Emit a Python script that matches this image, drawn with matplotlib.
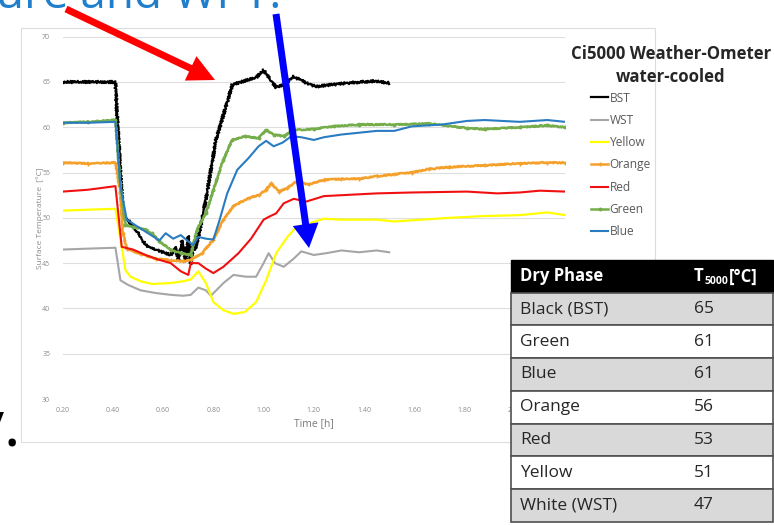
import numpy as np
import matplotlib.pyplot as plt
from matplotlib.patches import FancyArrow, Rectangle

plt.rcParams['font.family'] = ['Open Sans', 'DejaVu Sans']

W, H = 774, 525

# Surface temperature [°C] vs time [h]
bst_t = [0.20, 0.30, 0.41, 0.415, 0.44, 0.50, 0.53, 0.57, 0.63, 0.65, 0.66, 0.675, 0.69, 0.70, 0.71, 0.72,
         0.73, 0.77, 0.81, 0.85, 0.875, 0.91, 0.97, 1.00, 1.025, 1.05, 1.08, 1.12, 1.17, 1.21, 1.27, 1.34,
         1.44, 1.50]
bst_T = [65.0, 65.0, 65.0, 62.0, 50.5, 48.3, 47.0, 46.5, 45.9, 46.8, 45.3, 47.5, 45.2, 48.0, 44.9, 47.2,
         46.5, 52.0, 58.6, 62.3, 64.7, 65.0, 65.5, 66.3, 65.3, 64.4, 64.7, 65.6, 64.9, 64.5, 64.7, 64.9,
         65.1, 64.9]

wst_t = [0.20, 0.30, 0.41, 0.43, 0.46, 0.51, 0.57, 0.63, 0.68, 0.71, 0.74, 0.77, 0.79, 0.84, 0.88,
         0.93, 0.97, 1.00, 1.02, 1.045, 1.08, 1.12, 1.15, 1.20, 1.25, 1.31, 1.38, 1.45, 1.50]
wst_T = [46.5, 46.6, 46.7, 43.1, 42.6, 42.0, 41.7, 41.5, 41.4, 41.5, 42.3, 42.0, 41.4, 42.8, 43.7,
         43.5, 43.5, 45.0, 46.1, 45.0, 44.6, 45.5, 46.3, 45.9, 46.1, 46.4, 46.2, 46.4, 46.2]

yel_t = [0.20, 0.30, 0.41, 0.43, 0.45, 0.47, 0.51, 0.555, 0.63, 0.68, 0.71, 0.74, 0.77, 0.80, 0.84,
         0.88, 0.925, 0.97, 1.01, 1.05, 1.095, 1.13, 1.17, 1.24, 1.31, 1.45, 1.52, 1.74, 1.88, 2.02,
         2.13, 2.20]
yel_T = [50.8, 50.9, 51.0, 47.6, 44.2, 43.5, 43.0, 42.7, 42.8, 43.0, 43.2, 44.1, 42.8, 40.7, 39.8,
         39.4, 39.6, 40.7, 43.1, 46.1, 47.9, 49.0, 49.3, 49.9, 49.8, 49.8, 49.6, 50.0, 50.2, 50.3,
         50.6, 50.3]

org_t = [0.20, 0.30, 0.41, 0.43, 0.44, 0.455, 0.51, 0.57, 0.63, 0.68, 0.71, 0.755, 0.80, 0.84,
         0.88, 0.94, 0.98, 1.01, 1.03, 1.06, 1.095, 1.13, 1.18, 1.24, 1.31, 1.38, 1.45, 1.52, 1.59,
         1.66, 1.74, 1.88, 2.02, 2.13, 2.20]
org_T = [56.1, 56.0, 56.1, 52.7, 48.3, 46.6, 46.0, 45.5, 45.3, 45.2, 45.4, 46.1, 47.6, 49.8,
         51.3, 52.2, 52.5, 53.1, 53.8, 52.9, 53.3, 54.0, 53.7, 54.2, 54.3, 54.3, 54.6, 54.8, 55.0,
         55.4, 55.6, 55.8, 56.0, 56.1, 56.1]

red_t = [0.20, 0.30, 0.41, 0.435, 0.48, 0.53, 0.58, 0.63, 0.67, 0.70, 0.71, 0.74, 0.77, 0.80,
         0.84, 0.90, 0.95, 1.00, 1.02, 1.05, 1.08, 1.12, 1.17, 1.24, 1.31, 1.45, 1.59, 1.81, 1.93,
         2.02, 2.10, 2.20]
red_T = [52.9, 53.1, 53.5, 46.8, 46.5, 45.9, 45.4, 45.0, 44.1, 43.7, 45.0, 45.0, 44.4, 43.9,
         44.6, 46.1, 47.7, 49.8, 50.1, 50.5, 51.6, 52.1, 51.8, 52.4, 52.5, 52.7, 52.8, 52.9, 52.7,
         52.8, 53.0, 52.9]

grn_t = [0.20, 0.30, 0.41, 0.43, 0.45, 0.48, 0.53, 0.555, 0.585, 0.63, 0.67, 0.71, 0.735, 0.77,
         0.80, 0.84, 0.875, 0.925, 0.98, 1.01, 1.04, 1.08, 1.12, 1.20, 1.28, 1.38, 1.52, 1.66, 1.81,
         1.88, 2.02, 2.13, 2.20]
grn_T = [60.5, 60.6, 60.8, 53.5, 49.2, 49.0, 48.7, 48.3, 47.4, 46.5, 46.1, 45.9, 48.7, 50.5,
         53.1, 56.4, 58.6, 59.0, 58.8, 59.7, 59.2, 59.0, 59.7, 59.8, 60.1, 60.3, 60.3, 60.4, 59.9,
         59.8, 60.0, 60.2, 60.0]

blu_t = [0.20, 0.30, 0.41, 0.43, 0.455, 0.50, 0.54, 0.585, 0.61, 0.64, 0.67, 0.70, 0.72, 0.74,
         0.77, 0.80, 0.825, 0.855, 0.895, 0.94, 0.98, 1.01, 1.04, 1.075, 1.11, 1.15, 1.20, 1.24,
         1.31, 1.38, 1.45, 1.52, 1.59, 1.71, 1.81, 1.88, 2.02, 2.13, 2.20]
blu_T = [60.5, 60.5, 60.6, 53.5, 49.8, 49.0, 48.3, 47.5, 48.3, 47.7, 48.1, 47.4, 47.0, 47.9,
         47.7, 47.6, 49.8, 52.7, 55.3, 56.6, 57.9, 58.5, 57.9, 58.3, 59.0, 58.9, 58.6, 58.9,
         59.2, 59.4, 59.6, 59.6, 60.1, 60.3, 60.7, 60.8, 60.6, 60.8, 60.6]

x_ticks = [0.2, 0.4, 0.6, 0.8, 1.0, 1.2, 1.4, 1.6, 1.8, 2.0]
y_ticks = [30, 35, 40, 45, 50, 55, 60, 65, 70]

tab_names = ['Black (BST)', 'Green', 'Blue', 'Orange', 'Red', 'Yellow', 'White (WST)']
tab_vals = [65, 61, 61, 56, 53, 51, 47]

fig = plt.figure(figsize=(W / 100, H / 100), dpi=100)

# chart
x0, x1, y0, y1 = 62.7, 565, 36.7, 399
ax = fig.add_axes([x0 / W, 1 - y1 / H, (x1 - x0) / W, (y1 - y0) / H])
l_bst, = ax.plot(bst_t, bst_T, color='black', lw=1.6, label='BST')
ax.plot(wst_t, wst_T, color='#a6a6a6', lw=1.5, label='WST')
ax.plot(yel_t, yel_T, color='#ffff00', lw=1.6, label='Yellow')
l_org, = ax.plot(org_t, org_T, color='#f5a02a', lw=1.8, marker='+', ms=2.5, label='Orange')
ax.plot(red_t, red_T, color='#f01010', lw=1.5, label='Red')
l_grn, = ax.plot(grn_t, grn_T, color='#74ad4a', lw=1.8, marker='o', ms=1.8, label='Green')
ax.plot(blu_t, blu_T, color='#2a7cc2', lw=1.5, label='Blue')
l_bst.set_sketch_params(1.2, 2.5, 1.5)
l_org.set_sketch_params(0.6, 2, 2)
l_grn.set_sketch_params(0.6, 2, 2)

ax.set_xlim(0.2, 2.2)
ax.set_ylim(30, 70)
ax.set_xticks(x_ticks)
ax.set_xticklabels(['%.2f' % v for v in x_ticks])
ax.set_yticks(y_ticks)
ax.grid(axis='y', color='#dedede', lw=0.8)
ax.set_axisbelow(True)
for s in ax.spines.values():
    s.set_visible(False)
ax.tick_params(length=0, labelsize=5, colors='#8c8c8c')
ax.tick_params(axis='y', pad=9)
ax.tick_params(axis='x', pad=6)
ax.set_xlabel('Time [h]', fontsize=7.5, color='#7a7a7a', labelpad=3)
ax.set_ylabel('Surface Temperature  [°C]', fontsize=6, color='#8c8c8c')
ax.yaxis.set_label_coords(-0.038, 0.5)

leg = ax.legend(loc='upper left', bbox_to_anchor=(591 / W, 1 - 91.5 / H), bbox_transform=fig.transFigure,
                frameon=False, fontsize=8.6, handlelength=1.45, handletextpad=0.1, labelspacing=0.78,
                borderpad=0, borderaxespad=0)
for t in leg.get_texts():
    t.set_color('#595959')
for h in leg.legend_handles:
    h.set_sketch_params(None)

# overlay in pixel coordinates
ov = fig.add_axes([0, 0, 1, 1], zorder=10)
ov.set_xlim(0, W)
ov.set_ylim(H, 0)
ov.axis('off')
ov.patch.set_alpha(0)

ov.add_patch(Rectangle((21, 28), 634, 414, fill=False, ec='#dcdcdc', lw=0.8, zorder=1))

ov.text(671, 65.5, 'Ci5000 Weather-Ometer\nwater-cooled', ha='center', va='center', fontsize=12.1,
        fontweight='bold', color='#262626', linespacing=1.35, zorder=3)

ov.text(281, 8, 'ure and WPT.', ha='right', va='baseline', fontsize=33, color='#1f7fcc', zorder=3)
ov.text(20, 445, 'v.', ha='right', va='baseline', fontsize=46, color='black', zorder=3)

ov.add_patch(FancyArrow(66, 9, 149, 71, width=7, head_width=27, head_length=27,
                        length_includes_head=True, color='#ff0000', lw=0, zorder=4))
ov.add_patch(FancyArrow(276, 14, 33, 234, width=7, head_width=26, head_length=24,
                        length_includes_head=True, color='#0000ff', lw=0, zorder=4))

# table
tx0, tx1, ty0 = 511, 773, 260
rh = 32.7
col2 = 694
ov.add_patch(Rectangle((tx0, ty0), tx1 - tx0, rh, fc='black', ec='black', lw=1, zorder=5))
ov.text(tx0 + 9, ty0 + rh / 2, 'Dry Phase', color='white', fontsize=12, fontweight='bold',
        va='center', zorder=6)
t1 = ov.text(col2, ty0 + rh / 2, 'T', color='white', fontsize=12, fontweight='bold',
             va='center', zorder=6)
t2 = ov.annotate('5000', xy=(1, 0), xycoords=t1, xytext=(0.3, -1.5), textcoords='offset points',
                 color='white', fontsize=7.5, fontweight='bold', va='bottom', zorder=6)
ov.annotate('[°C]', xy=(1, 0), xycoords=(t2, t1), xytext=(0.3, 0), textcoords='offset points',
            color='white', fontsize=12, fontweight='bold', va='bottom', zorder=6)
for i, (name, val) in enumerate(zip(tab_names, tab_vals)):
    yy = ty0 + rh * (i + 1)
    fc = '#d9d9d9' if i % 2 == 0 else 'white'
    ov.add_patch(Rectangle((tx0, yy), tx1 - tx0, rh, fc=fc, ec='#505050', lw=1.2, zorder=5))
    ov.text(tx0 + 9, yy + rh / 2, name, color='#262626', fontsize=12.5, va='center', zorder=6)
    ov.text(col2, yy + rh / 2, str(val), color='#262626', fontsize=12.5, va='center', zorder=6)

fig.savefig('out.png', dpi=100)
